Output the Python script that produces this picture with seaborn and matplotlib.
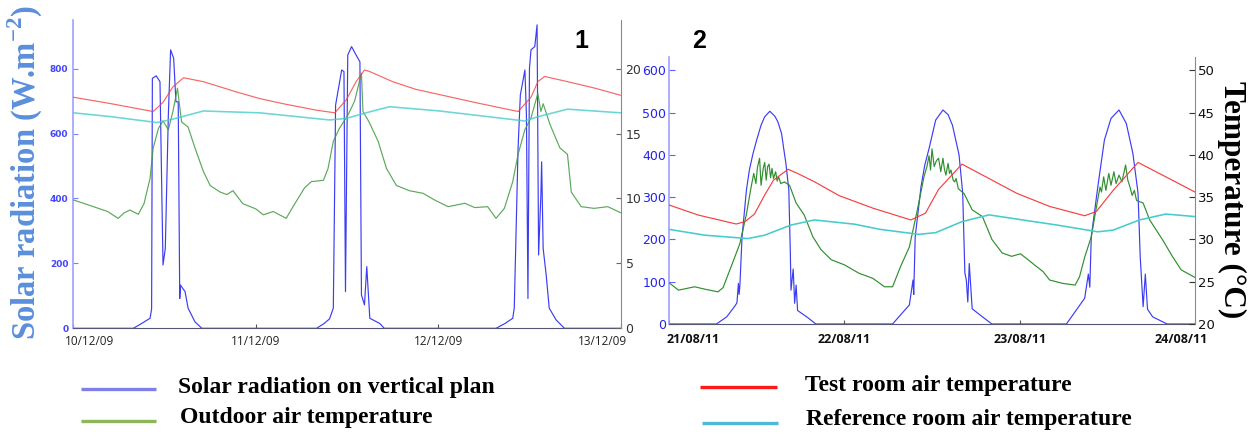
import numpy as np
import pandas as pd
import matplotlib
matplotlib.use("Agg")
import matplotlib.pyplot as plt
from matplotlib.lines import Line2D
from matplotlib.transforms import ScaledTranslation
import seaborn as sns

# ---------------- data (hours since first date) ----------------
# Panel 1 : 10/12/09 - 13/12/09
p1_rad_h = [0, 7.9, 9.0, 10.1, 10.3, 10.4, 10.9, 11.4, 11.8, 12.1, 12.5, 12.8, 13.2, 13.5, 13.8,
            14.0, 14.1, 14.7, 15.1, 16.0, 16.9,
            32.0, 33.0, 33.7, 34.2, 34.5, 35.3, 35.6, 35.8, 36.1, 36.6, 37.2, 37.7, 37.9, 38.3,
            38.6, 39.0, 40.3, 40.9,
            55.6, 56.8, 57.8, 58.0, 58.5, 58.8, 59.4, 59.6, 59.8, 60.0, 60.2, 60.7, 61.0, 61.2,
            61.5, 61.6, 61.8, 62.2, 62.6, 63.5, 64.6, 72]
p1_rad = [0, 0, 15, 31, 60, 770, 778, 760, 195, 246, 657, 858, 832, 698, 698,
          92, 133, 113, 62, 20, 0,
          0, 15, 29, 62, 688, 796, 791, 113, 842, 868, 842, 821, 103, 72,
          190, 31, 15, 0,
          0, 15, 31, 62, 555, 719, 796, 657, 92, 801, 858, 868, 935, 226,
          411, 513, 246, 164, 62, 26, 0, 0]

p1_test_h = [0, 5, 10.5, 11.8, 13.1, 14.5, 17.1, 19.3, 21.5, 24.5, 27.6, 32.0, 34.4, 35.9, 37.2,
             38.3, 38.9, 42.0, 45.1, 48.2, 52.8, 58.5, 60.2, 61.1, 62.0, 65.0, 68.6, 72]
p1_test = [17.8, 17.3, 16.7, 17.4, 18.6, 19.3, 19.0, 18.6, 18.2, 17.7, 17.3, 16.8, 16.6, 17.6, 19.0,
           19.9, 19.8, 19.0, 18.4, 18.0, 17.4, 16.7, 17.8, 19.0, 19.4, 19.0, 18.5, 17.95]

p1_ref_h = [0, 5, 11.0, 13.0, 17.1, 24.5, 33.7, 35.9, 38.5, 41.6, 48.2, 59.4, 61.1, 65.0, 72]
p1_ref = [16.6, 16.3, 15.85, 16.1, 16.74, 16.6, 16.05, 16.17, 16.6, 17.07, 16.74, 15.97, 16.3, 16.88, 16.6]

p1_out_h = [0, 1.5, 3, 4.5, 5.9, 6.7, 7.45, 8.55, 9.3, 10.1, 10.5, 11.2, 11.8, 12.5, 13.1, 13.7,
            14.24, 15.1, 16.0, 17.1, 18.0, 19.3, 20.2, 21.0, 22.3, 24.0, 25.0, 26.3, 28.0, 28.9,
            30.4, 31.3, 32.9, 33.5, 34.2, 35.0, 36.1, 37.0, 37.9, 38.1, 38.9, 40.1, 41.2, 42.5,
            44.2, 46.0, 47.5, 49.3, 51.5, 52.8, 54.5, 55.6, 56.7, 57.8, 58.5, 59.4, 60.2, 61.1,
            61.5, 61.8, 62.7, 64.0, 65.0, 65.5, 66.8, 68.5, 70.3, 72]
p1_out = [9.89, 9.6, 9.3, 9.0, 8.47, 8.9, 9.11, 8.78, 9.6, 11.56, 13.87, 15.4, 15.97, 15.3, 16.7, 18.5,
          15.9, 15.5, 13.9, 12.1, 11.0, 10.5, 10.3, 10.6, 9.6, 9.2, 8.74, 9.0, 8.47, 9.37,
          10.8, 11.3, 11.4, 12.3, 14.4, 15.4, 16.4, 17.5, 19.65, 16.7, 15.9, 14.4, 12.3, 11.0,
          10.6, 10.4, 9.89, 9.37, 9.63, 9.3, 9.37, 8.47, 9.24, 11.3, 13.4, 15.3, 16.2, 18.1,
          16.7, 17.3, 15.7, 13.9, 13.4, 10.5, 9.37, 9.24, 9.37, 8.9]

p1_dates = ["10/12/09", "11/12/09", "12/12/09", "13/12/09"]

# Panel 2 : 21/08/11 - 24/08/11
p2_rad_h = [0, 6.5, 7.9, 9.0, 9.3, 9.5, 9.6, 9.7, 10.0, 10.6, 11.0, 11.5, 12.0, 12.6, 13.1, 13.8,
            14.5, 14.9, 15.4, 15.8, 16.0, 16.4, 16.6, 16.7, 17.0, 17.2, 17.4, 17.6, 19.0, 20.1,
            30.6, 32.9, 33.4, 33.5, 33.7, 34.5, 35.0, 35.6, 36.5, 37.5, 38.2, 38.8, 39.7, 40.2,
            40.5, 40.7, 40.9, 41.1, 41.5, 42.9, 44.2,
            54.4, 56.9, 57.4, 57.6, 57.8, 58.7, 59.6, 60.5, 61.6, 62.6, 63.5, 64.2, 64.5, 64.9,
            65.2, 65.5, 66.2, 67.6, 68.2, 72]
p2_rad = [0, 0, 17, 42, 50, 96, 70, 90, 206, 317, 364, 403, 435, 470, 490, 503,
          491, 478, 451, 403, 380, 317, 175, 80, 130, 49, 92, 32, 15, 0,
          0, 45, 104, 70, 206, 325, 375, 415, 482, 506, 495, 470, 400, 310,
          120, 104, 52, 143, 36, 17, 0,
          0, 61, 118, 87, 206, 325, 435, 486, 506, 474, 403, 310, 159, 41,
          118, 35, 17, 5, 0, 0]

p2_test_h = [0, 4.0, 9.2, 10.4, 11.7, 13.1, 14.3, 16.3, 17.6, 19.9, 23.3, 27.9, 33.1, 35.1, 36.9,
             40.1, 43.8, 47.6, 52.1, 56.9, 58.5, 60.8, 64.2, 68.0, 72]
p2_test = [34.07, 32.88, 31.82, 32.1, 33.0, 35.25, 37.0, 38.29, 37.8, 36.82, 35.17, 33.7, 32.3, 33.1, 35.9,
           38.9, 37.2, 35.45, 33.9, 32.8, 33.3, 35.8, 39.1, 37.4, 35.6]

p2_ref_h = [0, 4.9, 10.8, 13.1, 16.7, 19.9, 25.4, 28.8, 34.2, 36.5, 40.1, 43.8, 49.2, 53.1, 58.7,
            60.8, 64.4, 68.0, 72]
p2_ref = [31.19, 30.5, 30.1, 30.5, 31.7, 32.3, 31.8, 31.2, 30.6, 30.8, 32.1, 32.9, 32.2, 31.7, 30.9,
          31.1, 32.3, 33.0, 32.7]

p2_out_h = [0, 1.3, 3.5, 5.0, 6.7, 7.4, 8.5, 9.7, 10.6, 11.2, 11.6, 11.9, 12.1, 12.4, 12.6, 12.9,
            13.1, 13.3, 13.5, 13.7, 13.9, 14.1, 14.3, 14.6, 14.8, 15.0, 15.3, 15.8, 16.5, 17.4,
            18.5, 19.7, 20.8, 22.2, 24.0, 26.0, 27.9, 29.5, 30.6, 31.7, 32.9, 34.0, 34.9, 35.3,
            35.6, 35.8, 36.0, 36.3, 36.6, 36.9, 37.2, 37.5, 37.7, 37.9, 38.2, 38.4, 38.6, 38.9,
            39.1, 39.3, 39.6, 40.4, 41.5, 42.9, 44.2, 45.6, 46.9, 48.1, 49.0, 50.3, 51.2, 52.1,
            53.9, 55.6, 56.2, 56.9, 57.8, 58.5, 59.0, 59.2, 59.5, 59.8, 60.2, 60.5, 60.9, 61.2,
            61.6, 62.0, 62.5, 62.8, 63.1, 63.4, 63.7, 64.0, 64.9, 65.8, 67.6, 68.9, 70.1, 72]
p2_out = [24.88, 24.0, 24.4, 24.1, 23.8, 24.3, 26.77, 29.5, 33.0, 36.0, 37.8, 36.6, 38.5, 39.6, 36.4, 38.4,
          39.1, 37.0, 38.6, 38.9, 37.3, 38.4, 37.2, 38.0, 36.9, 37.4, 36.6, 36.8, 36.4, 34.3,
          32.9, 30.3, 28.8, 27.6, 27.0, 26.0, 25.4, 24.4, 24.4, 26.8, 29.1, 33.5, 37.4, 38.6,
          39.9, 38.2, 40.7, 38.6, 39.3, 39.6, 38.0, 39.6, 38.3, 37.6, 39.0, 37.8, 38.2, 37.0,
          36.8, 37.2, 36.0, 35.4, 33.5, 32.7, 30.0, 28.4, 28.0, 28.3, 27.7, 26.8, 26.2, 25.2,
          24.8, 24.6, 25.6, 27.9, 30.3, 33.8, 36.2, 35.6, 37.4, 35.8, 37.8, 36.4, 38.0, 36.6,
          37.6, 36.8, 38.8, 37.0, 36.2, 35.2, 35.8, 34.6, 34.3, 32.3, 29.9, 28.0, 26.4, 25.5]

p2_dates = ["21/08/11", "22/08/11", "23/08/11", "24/08/11"]

legend_labels = ["Solar radiation on vertical plan", "Outdoor air temperature",
                 "Test room air temperature", "Reference room air temperature"]

# ---------------- style ----------------
sns.set_theme(style="ticks")
plt.rcParams["font.family"] = ["DejaVu Sans"]
plt.rcParams["mathtext.fontset"] = "custom"
plt.rcParams["mathtext.rm"] = "Liberation Serif:bold"
plt.rcParams["mathtext.bf"] = "Liberation Serif:bold"

BLUE = "#3c3cf5"
RED = "#f54040"
GREEN = "#3f993f"
CYAN = "#45cccc"
LW = 0.85

W, H = 1257, 437
fig = plt.figure(figsize=(W / 100, H / 100), dpi=100, facecolor="white")


def fx(px):
    return px / W


def fy(py):
    return 1 - py / H


def make_axes(left, right, top, bottom):
    ax = fig.add_axes([fx(left), fy(bottom), fx(right - left), (bottom - top) / H])
    axr = ax.twinx()
    return ax, axr


ax1, ax1r = make_axes(73.3, 620.7, 20, 328.3)
ax2, ax2r = make_axes(669, 1195, 56.7, 324)

# Panel 1 lines
sns.lineplot(x=p1_rad_h, y=p1_rad, ax=ax1, color=BLUE, lw=LW, estimator=None)
sns.lineplot(x=p1_out_h, y=p1_out, ax=ax1r, color=GREEN, lw=LW, estimator=None, alpha=0.85)
sns.lineplot(x=p1_test_h, y=p1_test, ax=ax1r, color=RED, lw=LW, estimator=None, alpha=0.8)
sns.lineplot(x=p1_ref_h, y=p1_ref, ax=ax1r, color=CYAN, lw=LW + 0.3, estimator=None, alpha=0.8)

# Panel 2 lines
sns.lineplot(x=p2_rad_h, y=p2_rad, ax=ax2, color=BLUE, lw=LW, estimator=None)
sns.lineplot(x=p2_out_h, y=p2_out, ax=ax2r, color="#2f8f2f", lw=LW, estimator=None)
sns.lineplot(x=p2_test_h, y=p2_test, ax=ax2r, color=RED, lw=LW, estimator=None)
sns.lineplot(x=p2_ref_h, y=p2_ref, ax=ax2r, color=CYAN, lw=LW + 0.3, estimator=None)

# Axis limits and ticks
ax1.set_xlim(0, 72)
ax1.set_ylim(0, 950)
ax1r.set_ylim(0, 23.75)
ax2.set_xlim(0, 72)
ax2.set_ylim(0, 632)
ax2r.set_ylim(20, 51.6)

ax1.set_yticks([0, 200, 400, 600, 800])
ax1r.set_yticks([0, 5, 10, 15, 20])
ax2.set_yticks([0, 100, 200, 300, 400, 500, 600])
ax2r.set_yticks([20, 25, 30, 35, 40, 45, 50])

for ax in (ax1, ax2):
    ax.set_xticks([0, 24, 48, 72])
    ax.set_xticklabels([])
    ax.tick_params(axis="x", direction="in", length=3, width=0.8, colors="#555555")
    ax.set_xlabel("")
    ax.set_ylabel("")
for axr in (ax1r, ax2r):
    axr.set_ylabel("")
    axr.spines["left"].set_visible(False)
    axr.spines["bottom"].set_visible(False)
    axr.spines["top"].set_visible(False)
    axr.spines["right"].set_visible(True)
    axr.spines["right"].set_color("#8a8a8a")
    axr.spines["right"].set_linewidth(0.8)
    axr.tick_params(axis="x", bottom=False, top=False, labelbottom=False)

for ax in (ax1, ax2):
    ax.spines["top"].set_visible(False)
    ax.spines["right"].set_visible(False)
    ax.spines["left"].set_color("#a0a0ff")
    ax.spines["left"].set_linewidth(1.2)
    ax.spines["bottom"].set_color("#555577")
    ax.spines["bottom"].set_linewidth(0.8)

ax1.tick_params(axis="y", direction="in", length=3.5, width=0.8, color="#8080ff",
                labelsize=6.5, labelcolor="#4545ff", pad=3.5)
for t in ax1.get_yticklabels():
    t.set_fontweight("bold")
ax1r.tick_params(axis="y", direction="in", length=3.5, width=0.8, color="#666666",
                 labelsize=9, labelcolor="#333333", pad=3.5)
ax2.tick_params(axis="y", direction="in", length=4, width=0.8, color="#6060ff",
                labelsize=9, labelcolor="#2222ee", pad=2)
ax2r.tick_params(axis="y", direction="in", length=4, width=0.8, color="#333333",
                 labelsize=9.5, labelcolor="#111111", pad=2)


# Date labels along the x axes
def date_labels(ax, labels, shifts, fs, weight, color, dy):
    for x, lab, (ha, dx) in zip([0, 24, 48, 72], labels, shifts):
        tr = ax.get_xaxis_transform() + ScaledTranslation(dx / 100, -dy / 100, fig.dpi_scale_trans)
        ax.text(x, 0, lab, transform=tr, ha=ha, va="top", fontsize=fs, fontweight=weight,
                color=color, family=["Open Sans", "DejaVu Sans"])


date_labels(ax1, p1_dates, [("left", -8), ("center", 0), ("center", 0), ("right", 6)],
            8.5, "normal", "#222222", 7)
date_labels(ax2, p2_dates, [("left", -2), ("center", 0), ("center", 0), ("right", 13)],
            9, "bold", "#111111", 9)

# Axis titles
fig.text(fx(25), fy(172), r"Solar radiation (W.m$^{\mathbf{-2}}$)", rotation=90,
         ha="center", va="center", fontsize=23.5, fontweight="bold", color="#5b8fdb",
         family="Liberation Serif")
fig.text(fx(1232), fy(200), "Temperature (\u00b0C)", rotation=270, ha="center", va="center",
         fontsize=22.5, fontweight="bold", color="black", family="Liberation Serif")

# Panel numbers
fig.text(fx(581), fy(41), "1", ha="center", va="center", fontsize=18, fontweight="bold",
         family="Liberation Sans", color="black")
fig.text(fx(699), fy(41), "2", ha="center", va="center", fontsize=18, fontweight="bold",
         family="Liberation Sans", color="black")

# Legend (figure level)
leg_items = [
    (81, 156, 389, "#7f7fe8", 178, 388, legend_labels[0]),
    (81, 156, 421, "#8db55c", 180, 417, legend_labels[1]),
    (700, 777, 387, "#ff1a1a", 805, 386, legend_labels[2]),
    (702, 778, 423, "#4fb8d4", 806, 420, legend_labels[3]),
]
for x0, x1, ly, col, tx, ty, lab in leg_items:
    fig.add_artist(Line2D([fx(x0), fx(x1)], [fy(ly), fy(ly)], transform=fig.transFigure,
                          color=col, lw=2.4, solid_capstyle="butt"))
    fig.text(fx(tx), fy(ty), lab, ha="left", va="center", fontsize=17, fontweight="bold",
             family="Liberation Serif", color="black")

fig.savefig("out.png", dpi=100, facecolor="white")
